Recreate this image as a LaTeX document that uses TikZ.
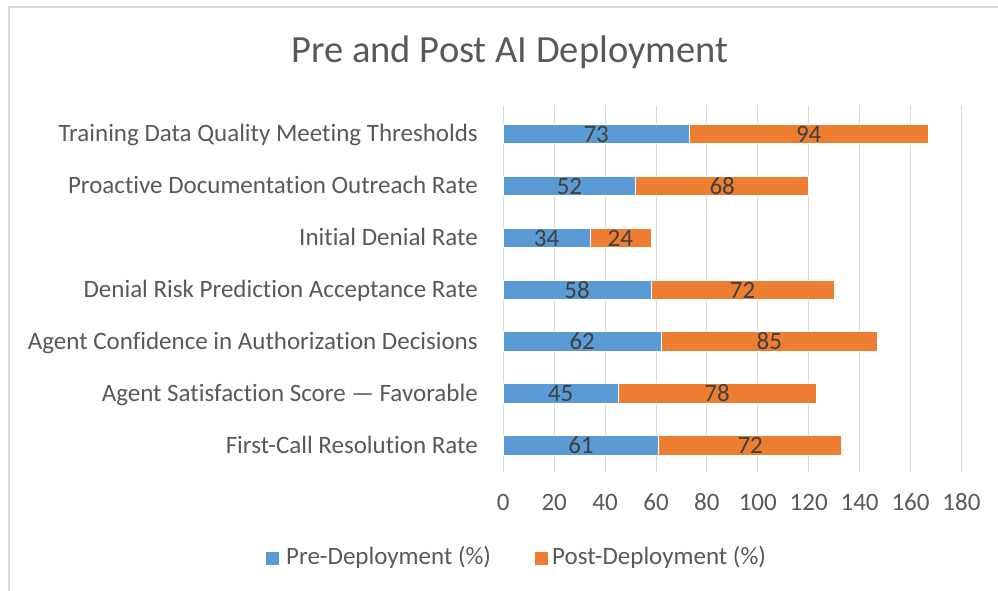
\documentclass[tikz,border=0pt]{standalone}
\usepackage{fontspec}
\setmainfont{Carlito}[Ligatures=NoCommon]
\definecolor{preblue}{HTML}{5B9BD5}
\definecolor{postorange}{HTML}{ED7D31}
\definecolor{txtgray}{HTML}{595959}
\definecolor{lblgray}{HTML}{404040}
\definecolor{gridgray}{HTML}{D9D9D9}
\begin{document}
\begin{tikzpicture}[x=1pt,y=-1pt,
  catlab/.style={anchor=base east,inner sep=0pt,text=txtgray,font=\fontsize{25}{30}\selectfont},
  ticklab/.style={anchor=base,inner sep=0pt,text=txtgray,font=\fontsize{25}{30}\selectfont},
  datalab/.style={anchor=base,inner sep=0pt,text=lblgray,font=\fontsize{25}{30}\selectfont},
  leglab/.style={anchor=base west,inner sep=0pt,text=txtgray,font=\fontsize{25}{30}\selectfont},
  titlelab/.style={anchor=base,inner sep=0pt,text=txtgray,font=\fontsize{38.5}{44}\selectfont},
  gridline/.style={draw=gridgray,line width=1pt},
  prebar/.style={fill=preblue,draw=white,line width=0.6pt},
  postbar/.style={fill=postorange,draw=white,line width=0.6pt}]
\useasboundingbox (0,0) rectangle (998,591);
\fill[white] (0,0) rectangle (998,591);
% chart frame
\draw[gridgray,line width=1.5pt] (9,591) -- (9,7) -- (998,7);
% title
\node[titlelab] (title) at (510,63) {Pre and Post AI Deployment};
% vertical gridlines and tick labels
\foreach \k in {0,...,9} {
  \pgfmathsetmacro\gx{503.3+50.9*\k}
  \draw[gridline] (\gx,106) -- (\gx,472);
  \pgfmathtruncatemacro\tv{20*\k}
  \node[ticklab] (tick\k) at (\gx,510) {\tv};
}
% stacked bars
\foreach \lab/\pre/\post [count=\i from 0] in {
  Training Data Quality Meeting Thresholds/73/94,
  Proactive Documentation Outreach Rate/52/68,
  Initial Denial Rate/34/24,
  Denial Risk Prediction Acceptance Rate/58/72,
  Agent Confidence in Authorization Decisions/62/85,
  Agent Satisfaction Score — Favorable/45/78,
  First-Call Resolution Rate/61/72} {
  \pgfmathsetmacro\yc{133.8+51.9*\i}
  \pgfmathsetmacro\xa{503.3+2.545*\pre}
  \pgfmathsetmacro\xb{\xa+2.545*\post}
  \path[prebar] (503.3,\yc-9.7) rectangle (\xa,\yc+9.7);
  \path[postbar] (\xa,\yc-9.7) rectangle (\xb,\yc+9.7);
  \node[catlab] (cat\i) at (478,\yc+8) {\lab};
  \node[datalab] (pre\i) at ({(503.3+\xa)/2},\yc+8.5) {\pre};
  \node[datalab] (post\i) at ({(\xa+\xb)/2},\yc+8.5) {\post};
}
% legend
\fill[preblue] (266,552) rectangle (279,565);
\node[leglab] (legpre) at (286,564.5) {Pre-Deployment (\%)};
\fill[postorange] (535,552) rectangle (548,565);
\node[leglab] (legpost) at (552,564.5) {Post-Deployment (\%)};
\end{tikzpicture}
\end{document}
